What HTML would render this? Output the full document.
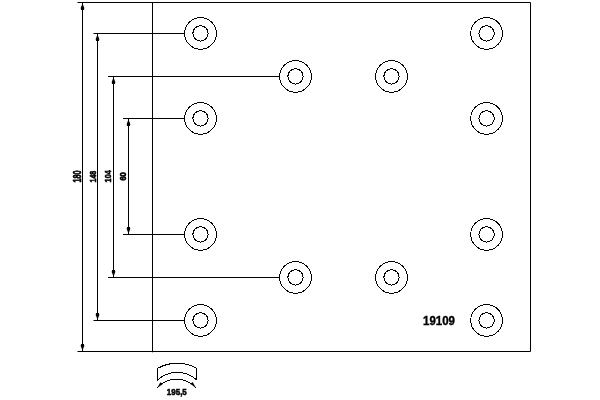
<!DOCTYPE html>
<html><head><meta charset="utf-8"><title>19109</title>
<style>html,body{margin:0;padding:0;background:#fff;}svg{display:block;will-change:transform;}text{font-family:"Liberation Sans",sans-serif;font-weight:bold;fill:#000;}</style></head><body>
<svg width="600" height="400" viewBox="0 0 600 400">
<rect width="600" height="400" fill="#fff"/>
<g fill="none" stroke="#000" stroke-width="1">
<path d="M77.5 2.5H530.5V351.5H77.5"/>
<path d="M152.5 2.5V352.3"/>
<path d="M82.5 2.5V351.5"/>
<path d="M97.5 33.5V320.5"/>
<path d="M93.5 33.5H184.5M93.5 320.5H184.5"/>
<path d="M113.5 76.5V277.5"/>
<path d="M108 76.5H279.5M108 277.5H279.5"/>
<path d="M128.5 118.5V234.5"/>
<path d="M123 118.5H184.5M123 234.5H184.5"/>
</g>
<g fill="none" stroke="#000" stroke-width="1" shape-rendering="crispEdges">
<circle cx="200.5" cy="33.4" r="15.85"/><circle cx="200.5" cy="33.4" r="7.65"/>
<circle cx="200.5" cy="118.4" r="15.85"/><circle cx="200.5" cy="118.4" r="7.65"/>
<circle cx="200.5" cy="234.4" r="15.85"/><circle cx="200.5" cy="234.4" r="7.65"/>
<circle cx="200.5" cy="320.4" r="15.85"/><circle cx="200.5" cy="320.4" r="7.65"/>
<circle cx="486.6" cy="33.4" r="15.85"/><circle cx="486.6" cy="33.4" r="7.65"/>
<circle cx="486.6" cy="118.4" r="15.85"/><circle cx="486.6" cy="118.4" r="7.65"/>
<circle cx="486.6" cy="234.4" r="15.85"/><circle cx="486.6" cy="234.4" r="7.65"/>
<circle cx="486.6" cy="320.4" r="15.85"/><circle cx="486.6" cy="320.4" r="7.65"/>
<circle cx="295.5" cy="76.4" r="15.85"/><circle cx="295.5" cy="76.4" r="7.65"/>
<circle cx="295.5" cy="277.4" r="15.85"/><circle cx="295.5" cy="277.4" r="7.65"/>
<circle cx="391.5" cy="76.4" r="15.85"/><circle cx="391.5" cy="76.4" r="7.65"/>
<circle cx="391.5" cy="277.4" r="15.85"/><circle cx="391.5" cy="277.4" r="7.65"/>
</g>
<g fill="#000" stroke="none">
<path d="M82.5 3.5L80.7 8.0L81.1 10.0H83.9L84.3 8.0Z"/>
<path d="M82.5 350.5L80.7 346.0L81.1 344.0H83.9L84.3 346.0Z"/>
<path d="M97.5 34.5L95.7 39.0L96.1 41.0H98.9L99.3 39.0Z"/>
<path d="M97.5 319.5L95.7 315.0L96.1 313.0H98.9L99.3 315.0Z"/>
<path d="M113.5 77.5L111.7 82.0L112.1 84.0H114.9L115.3 82.0Z"/>
<path d="M113.5 276.5L111.7 272.0L112.1 270.0H114.9L115.3 272.0Z"/>
<path d="M128.5 119.5L126.7 124.0L127.1 126.0H129.9L130.3 124.0Z"/>
<path d="M128.5 233.5L126.7 229.0L127.1 227.0H129.9L130.3 229.0Z"/>
</g>
<text transform="translate(81.0 176.6) rotate(-90)" font-size="10.4" stroke="#000" stroke-width="0.6" text-anchor="middle" textLength="12" lengthAdjust="spacingAndGlyphs">180</text>
<text transform="translate(95.7 176.6) rotate(-90)" font-size="9.6" stroke="#000" stroke-width="0.6" text-anchor="middle" textLength="11.8" lengthAdjust="spacingAndGlyphs">148</text>
<text transform="translate(111.4 176.3) rotate(-90)" font-size="9.6" stroke="#000" stroke-width="0.6" text-anchor="middle" textLength="12.2" lengthAdjust="spacingAndGlyphs">104</text>
<text transform="translate(126.2 176.4) rotate(-90)" font-size="8.4" stroke="#000" stroke-width="0.6" text-anchor="middle" textLength="8.4" lengthAdjust="spacingAndGlyphs">60</text>
<text x="423" y="325.2" font-size="13.6" stroke="#000" stroke-width="0.4" textLength="32" lengthAdjust="spacingAndGlyphs">19109</text>
<g fill="none" stroke="#000" stroke-width="1" shape-rendering="crispEdges">
<path d="M157.6 380V368.4A39.5 39.5 0 0 1 196.8 368.4V380A29.1 29.1 0 0 0 157.6 380Z"/>
<path d="M157.3 387.6A26.2 26.2 0 0 1 195.7 387.5"/>
</g>
<g fill="#000"><path d="M157.1 387.9L160.4 382.2L162.6 384.2Z"/><path d="M195.9 387.8L192.6 382.1L190.4 384.1Z"/></g>
<text x="166.8" y="395.2" font-size="9" stroke="#000" stroke-width="0.5" textLength="20" lengthAdjust="spacingAndGlyphs">195,5</text>
</svg></body></html>
